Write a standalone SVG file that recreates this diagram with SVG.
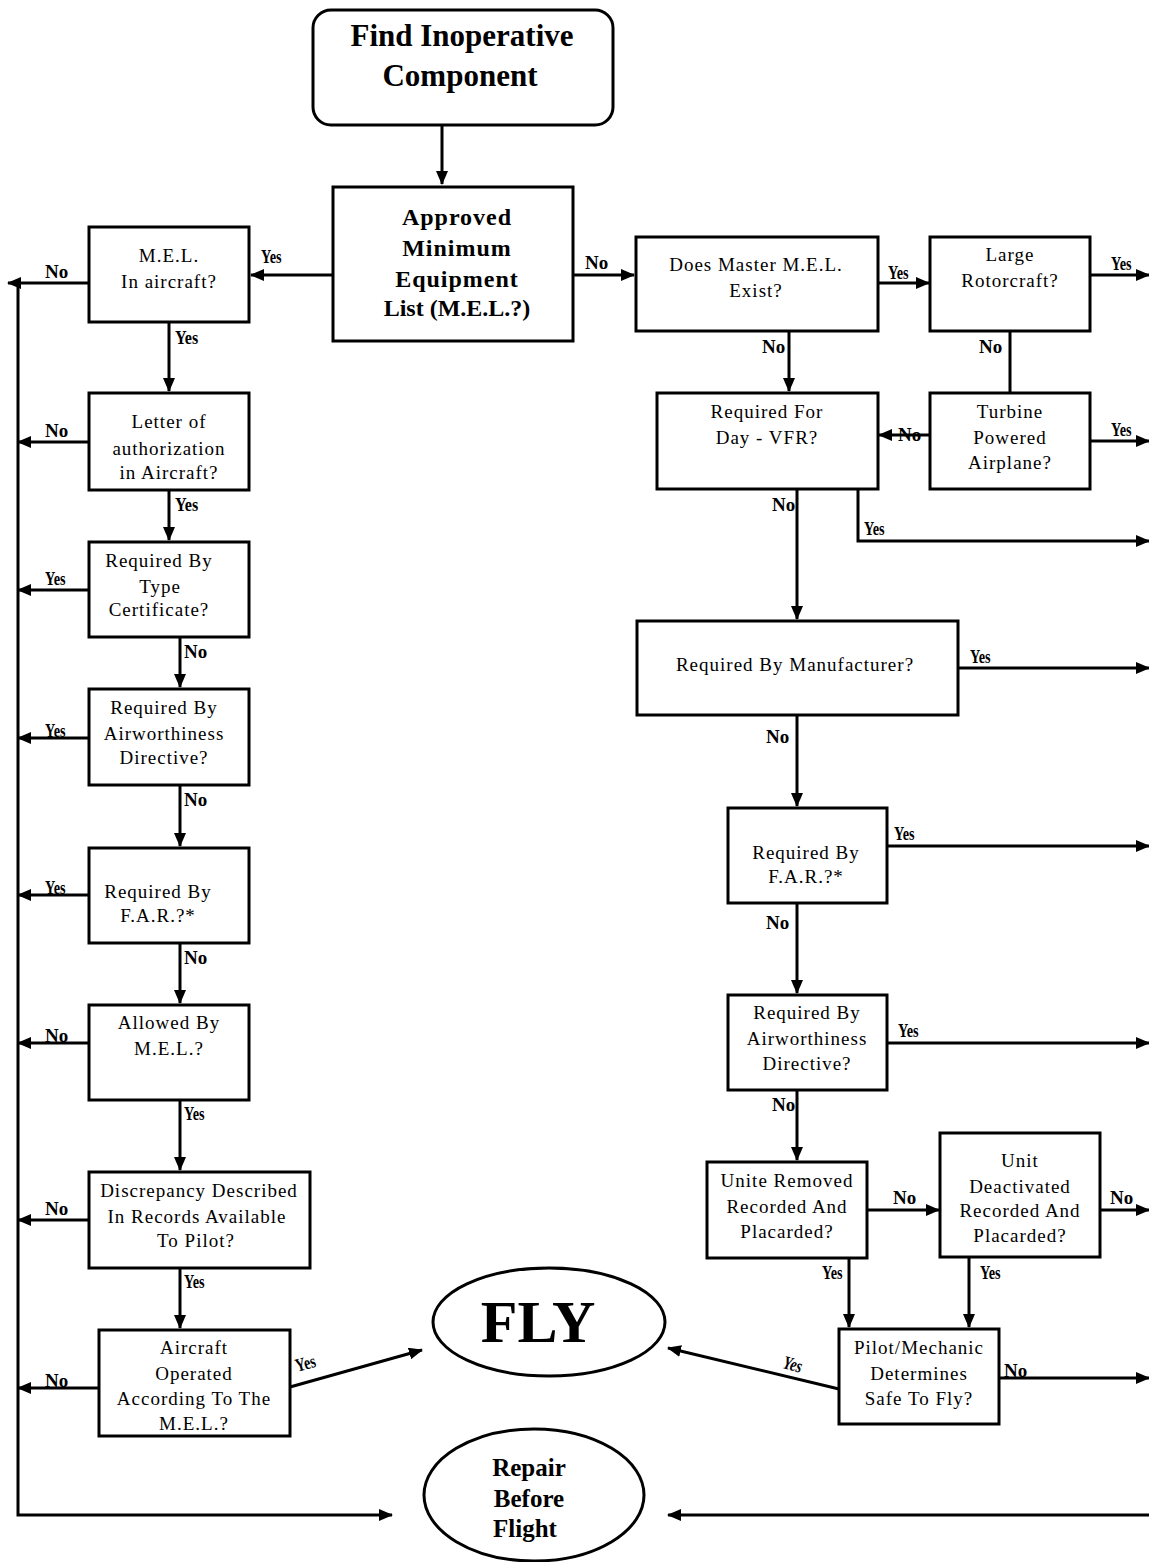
<svg xmlns="http://www.w3.org/2000/svg" width="1149" height="1562" viewBox="0 0 1149 1562">
<style>
.box{fill:#fff;stroke:#000;stroke-width:3}
.ln{fill:none;stroke:#000;stroke-width:3}
text{font-family:'Liberation Serif','Times New Roman','DejaVu Serif',serif}
.t{font-size:19px;letter-spacing:1px;text-anchor:middle;fill:#000}
.b{font-weight:bold;text-anchor:middle;fill:#000}
.lb{font-weight:bold;font-size:19px;fill:#000}
</style>
<defs>
<marker id="ah" markerUnits="userSpaceOnUse" markerWidth="14" markerHeight="12" refX="13" refY="6" orient="auto"><path d="M0,0 L14,6 L0,12 Z" fill="#000"/></marker>
</defs>
<rect width="1149" height="1562" fill="#fff"/>
<g id="connectors">
<path class="ln" d="M442,125 V184" marker-end="url(#ah)"/>
<path class="ln" d="M333,275 H251" marker-end="url(#ah)"/>
<path class="ln" d="M89,283 H8" marker-end="url(#ah)"/>
<path class="ln" d="M18,283 V1515 H392" marker-end="url(#ah)"/>
<path class="ln" d="M169,322 V391" marker-end="url(#ah)"/>
<path class="ln" d="M89,442 H18" marker-end="url(#ah)"/>
<path class="ln" d="M169,490 V540" marker-end="url(#ah)"/>
<path class="ln" d="M89,590 H18" marker-end="url(#ah)"/>
<path class="ln" d="M180,637 V687" marker-end="url(#ah)"/>
<path class="ln" d="M89,738 H18" marker-end="url(#ah)"/>
<path class="ln" d="M180,785 V846" marker-end="url(#ah)"/>
<path class="ln" d="M89,895 H18" marker-end="url(#ah)"/>
<path class="ln" d="M180,943 V1003" marker-end="url(#ah)"/>
<path class="ln" d="M89,1043 H18" marker-end="url(#ah)"/>
<path class="ln" d="M180,1100 V1170" marker-end="url(#ah)"/>
<path class="ln" d="M89,1220 H18" marker-end="url(#ah)"/>
<path class="ln" d="M180,1268 V1328" marker-end="url(#ah)"/>
<path class="ln" d="M99,1388 H18" marker-end="url(#ah)"/>
<path class="ln" d="M290,1387 L422,1350" marker-end="url(#ah)"/>
<path class="ln" d="M573,275 H634" marker-end="url(#ah)"/>
<path class="ln" d="M878,283 H929" marker-end="url(#ah)"/>
<path class="ln" d="M1090,275 H1149" marker-end="url(#ah)"/>
<path class="ln" d="M1010,331 V393"/>
<path class="ln" d="M789,331 V391" marker-end="url(#ah)"/>
<path class="ln" d="M930,435 H879" marker-end="url(#ah)"/>
<path class="ln" d="M1090,441 H1149" marker-end="url(#ah)"/>
<path class="ln" d="M858,489 V541 H1149" marker-end="url(#ah)"/>
<path class="ln" d="M797,489 V619" marker-end="url(#ah)"/>
<path class="ln" d="M958,668 H1149" marker-end="url(#ah)"/>
<path class="ln" d="M797,715 V806" marker-end="url(#ah)"/>
<path class="ln" d="M887,846 H1149" marker-end="url(#ah)"/>
<path class="ln" d="M797,903 V993" marker-end="url(#ah)"/>
<path class="ln" d="M887,1043 H1149" marker-end="url(#ah)"/>
<path class="ln" d="M797,1090 V1160" marker-end="url(#ah)"/>
<path class="ln" d="M867,1210 H939" marker-end="url(#ah)"/>
<path class="ln" d="M1100,1210 H1149" marker-end="url(#ah)"/>
<path class="ln" d="M849,1258 V1327" marker-end="url(#ah)"/>
<path class="ln" d="M969,1257 V1327" marker-end="url(#ah)"/>
<path class="ln" d="M839,1389 L668,1348" marker-end="url(#ah)"/>
<path class="ln" d="M999,1378 H1149" marker-end="url(#ah)"/>
<path class="ln" d="M1149,1515 H668" marker-end="url(#ah)"/>
</g>
<g id="labels">
<text class="lb" x="0" y="0" font-size="24" transform="translate(261 263) scale(0.75 1)">Yes</text>
<text class="lb" x="45" y="278">No</text>
<text class="lb" x="0" y="0" font-size="21" transform="translate(175 344) scale(0.85 1)">Yes</text>
<text class="lb" x="45" y="437">No</text>
<text class="lb" x="0" y="0" font-size="21" transform="translate(175 511) scale(0.85 1)">Yes</text>
<text class="lb" x="0" y="0" transform="translate(45 585) scale(0.75 1)">Yes</text>
<text class="lb" x="184" y="658">No</text>
<text class="lb" x="0" y="0" transform="translate(45 737) scale(0.75 1)">Yes</text>
<text class="lb" x="184" y="806">No</text>
<text class="lb" x="0" y="0" transform="translate(45 894) scale(0.75 1)">Yes</text>
<text class="lb" x="184" y="964">No</text>
<text class="lb" x="45" y="1042">No</text>
<text class="lb" x="0" y="0" transform="translate(184 1120) scale(0.75 1)">Yes</text>
<text class="lb" x="45" y="1215">No</text>
<text class="lb" x="0" y="0" transform="translate(184 1288) scale(0.75 1)">Yes</text>
<text class="lb" x="45" y="1387">No</text>
<text class="lb" x="0" y="0" transform="translate(297 1372) rotate(-15) scale(0.75 1)">Yes</text>
<text class="lb" x="585" y="269">No</text>
<text class="lb" x="0" y="0" transform="translate(888 279) scale(0.75 1)">Yes</text>
<text class="lb" x="0" y="0" transform="translate(1111 270) scale(0.75 1)">Yes</text>
<text class="lb" x="762" y="353">No</text>
<text class="lb" x="979" y="353">No</text>
<text class="lb" x="898" y="441">No</text>
<text class="lb" x="0" y="0" transform="translate(1111 436) scale(0.75 1)">Yes</text>
<text class="lb" x="772" y="511">No</text>
<text class="lb" x="0" y="0" transform="translate(864 535) scale(0.75 1)">Yes</text>
<text class="lb" x="0" y="0" transform="translate(970 663) scale(0.75 1)">Yes</text>
<text class="lb" x="766" y="743">No</text>
<text class="lb" x="0" y="0" transform="translate(894 840) scale(0.75 1)">Yes</text>
<text class="lb" x="766" y="929">No</text>
<text class="lb" x="0" y="0" transform="translate(898 1037) scale(0.75 1)">Yes</text>
<text class="lb" x="772" y="1111">No</text>
<text class="lb" x="893" y="1204">No</text>
<text class="lb" x="1110" y="1204">No</text>
<text class="lb" x="0" y="0" transform="translate(822 1279) scale(0.75 1)">Yes</text>
<text class="lb" x="0" y="0" transform="translate(980 1279) scale(0.75 1)">Yes</text>
<text class="lb" x="0" y="0" font-style="italic" transform="translate(782 1368) rotate(15) scale(0.75 1)">Yes</text>
<text class="lb" x="1004" y="1377">No</text>
</g>
<g id="start">
<rect class="box" x="313" y="10" width="300" height="115" rx="18"/>
<text class="b" font-size="31" x="462" y="46">Find Inoperative</text>
<text class="b" font-size="31" x="460" y="86">Component</text>
</g>
<g id="approved">
<rect class="box" x="333" y="187" width="240" height="154"/>
<text class="b" font-size="24" letter-spacing="1" x="457" y="225">Approved</text>
<text class="b" font-size="24" letter-spacing="1" x="457" y="256">Minimum</text>
<text class="b" font-size="24" letter-spacing="1" x="457" y="287">Equipment</text>
<text class="b" font-size="24" x="457" y="316">List (M.E.L.?)</text>
</g>
<g id="mel">
<rect class="box" x="89" y="227" width="160" height="95"/>
<text class="t" x="169" y="262">M.E.L.</text>
<text class="t" x="169" y="288">In aircraft?</text>
</g>
<g id="letter">
<rect class="box" x="89" y="393" width="160" height="97"/>
<text class="t" x="169" y="428">Letter of</text>
<text class="t" x="169" y="455">authorization</text>
<text class="t" x="169" y="479">in Aircraft?</text>
</g>
<g id="typecert">
<rect class="box" x="89" y="542" width="160" height="95"/>
<text class="t" x="159" y="567">Required By</text>
<text class="t" x="160" y="593">Type</text>
<text class="t" x="159" y="616">Certificate?</text>
</g>
<g id="ad-left">
<rect class="box" x="89" y="689" width="160" height="96"/>
<text class="t" x="164" y="714">Required By</text>
<text class="t" x="164" y="740">Airworthiness</text>
<text class="t" x="164" y="764">Directive?</text>
</g>
<g id="far-left">
<rect class="box" x="89" y="848" width="160" height="95"/>
<text class="t" x="158" y="898">Required By</text>
<text class="t" x="158" y="922">F.A.R.?*</text>
</g>
<g id="allowed">
<rect class="box" x="89" y="1005" width="160" height="95"/>
<text class="t" x="169" y="1029">Allowed By</text>
<text class="t" x="169" y="1055">M.E.L.?</text>
</g>
<g id="discrepancy">
<rect class="box" x="89" y="1172" width="221" height="96"/>
<text class="t" x="199" y="1197" letter-spacing="0.5">Discrepancy Described</text>
<text class="t" x="197" y="1223" letter-spacing="0.5">In Records Available</text>
<text class="t" x="196" y="1247">To Pilot?</text>
</g>
<g id="operated">
<rect class="box" x="99" y="1330" width="191" height="106"/>
<text class="t" x="194" y="1354">Aircraft</text>
<text class="t" x="194" y="1380">Operated</text>
<text class="t" x="194" y="1405" letter-spacing="0.5">According To The</text>
<text class="t" x="194" y="1430">M.E.L.?</text>
</g>
<g id="fly">
<ellipse class="box" cx="549" cy="1322" rx="116" ry="54"/>
<text class="b" font-size="60" x="538" y="1342">FLY</text>
</g>
<g id="repair">
<ellipse class="box" cx="534" cy="1495" rx="110" ry="66"/>
<text class="b" font-size="25" x="529" y="1476">Repair</text>
<text class="b" font-size="25" x="529" y="1507">Before</text>
<text class="b" font-size="25" x="525" y="1537">Flight</text>
</g>
<g id="master">
<rect class="box" x="636" y="237" width="242" height="94"/>
<text class="t" x="756" y="271">Does Master M.E.L.</text>
<text class="t" x="756" y="297">Exist?</text>
</g>
<g id="rotorcraft">
<rect class="box" x="930" y="237" width="160" height="94"/>
<text class="t" x="1010" y="261">Large</text>
<text class="t" x="1010" y="287">Rotorcraft?</text>
</g>
<g id="dayvfr">
<rect class="box" x="657" y="393" width="221" height="96"/>
<text class="t" x="767" y="418">Required For</text>
<text class="t" x="767" y="444">Day - VFR?</text>
</g>
<g id="turbine">
<rect class="box" x="930" y="393" width="160" height="96"/>
<text class="t" x="1010" y="418">Turbine</text>
<text class="t" x="1010" y="444">Powered</text>
<text class="t" x="1010" y="469">Airplane?</text>
</g>
<g id="manufacturer">
<rect class="box" x="637" y="621" width="321" height="94"/>
<text class="t" x="795" y="671">Required By Manufacturer?</text>
</g>
<g id="far-right">
<rect class="box" x="728" y="808" width="159" height="95"/>
<text class="t" x="806" y="859">Required By</text>
<text class="t" x="806" y="883">F.A.R.?*</text>
</g>
<g id="ad-right">
<rect class="box" x="728" y="995" width="159" height="95"/>
<text class="t" x="807" y="1019">Required By</text>
<text class="t" x="807" y="1045">Airworthiness</text>
<text class="t" x="807" y="1070">Directive?</text>
</g>
<g id="removed">
<rect class="box" x="707" y="1162" width="160" height="96"/>
<text class="t" x="787" y="1187">Unite Removed</text>
<text class="t" x="787" y="1213">Recorded And</text>
<text class="t" x="787" y="1238">Placarded?</text>
</g>
<g id="deactivated">
<rect class="box" x="940" y="1133" width="160" height="124"/>
<text class="t" x="1020" y="1167">Unit</text>
<text class="t" x="1020" y="1193">Deactivated</text>
<text class="t" x="1020" y="1217">Recorded And</text>
<text class="t" x="1020" y="1242">Placarded?</text>
</g>
<g id="pilot">
<rect class="box" x="839" y="1329" width="160" height="95"/>
<text class="t" x="919" y="1354">Pilot/Mechanic</text>
<text class="t" x="919" y="1380">Determines</text>
<text class="t" x="919" y="1405">Safe To Fly?</text>
</g>
</svg>
